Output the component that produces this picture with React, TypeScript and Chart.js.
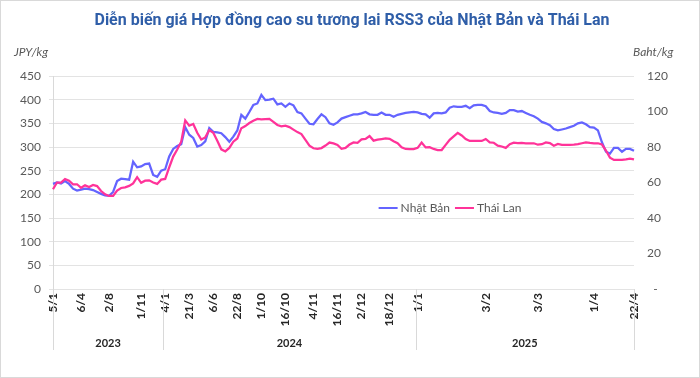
import { useEffect, useRef } from 'react';
import { Chart, registerables } from 'chart.js';

Chart.register(...registerables);

const TITLE = 'Diễn biến giá Hợp đồng cao su tương lai RSS3 của Nhật Bản và Thái Lan';

// JPY/kg – Japan RSS3 futures (left axis)
const jpyPrices = [
  222, 225, 223, 228, 222, 212, 208, 210, 212, 211,
  209, 205, 201, 198, 197, 205, 228, 233, 232, 231,
  269, 257, 259, 264, 265, 241, 237, 250, 253, 280,
  296, 302, 306, 342, 326, 319, 301, 304, 312, 340,
  332, 331, 329, 321, 311, 322, 335, 368, 360, 374,
  389, 392, 410, 399, 400, 402, 390, 392, 385, 392,
  388, 374, 371, 360, 349, 348, 359, 369, 363, 350,
  347, 352, 360, 363, 366, 369, 369, 371, 374, 369,
  368, 368, 373, 368, 368, 364, 368, 370, 372, 373,
  374, 373, 370, 369, 362, 371, 372, 371, 373, 383,
  386, 385, 385, 387, 382, 388, 389, 389, 386, 376,
  373, 372, 370, 372, 378, 378, 375, 376, 372, 368,
  365, 360, 353, 350, 346, 338, 335, 337, 339, 342,
  345, 350, 352, 348, 342, 341, 335, 310, 290, 286,
  298, 298, 290, 296, 296, 292,
];

// Baht/kg – Thailand RSS3 futures (right axis)
const thbPrices = [
  56.2, 60, 60, 62, 61, 59, 59, 57, 58.4, 57.5,
  58.6, 58, 55.2, 53.3, 52.4, 52.4, 55.5, 56.9, 57.3, 58.1,
  59.5, 63, 59.8, 61, 61.2, 60, 59.2, 61.6, 62, 68.5,
  74.6, 78.6, 83, 95, 92, 93, 88, 84.2, 85.4, 89.5,
  88, 83.5, 78.7, 77.5, 79.5, 83, 84.8, 90.6, 91.8, 93.5,
  94.8, 95.8, 95.6, 95.7, 95.8, 94.2, 92.4, 91.6, 92, 91.2,
  89.8, 88.4, 87.3, 84, 80.7, 79.3, 79, 79.4, 80.8, 82.5,
  82, 81.2, 79, 79.5, 81.4, 82.6, 82.3, 84.3, 84.6, 86.2,
  83.6, 84.2, 84.5, 84.8, 84.6, 83.2, 82.1, 79.8, 78.9, 78.8,
  78.8, 79.5, 82.5, 79.8, 79.9, 78.9, 78.3, 78.3, 81.2, 84,
  86, 88, 86.5, 84.5, 83.4, 83.4, 83.4, 83.4, 84.5, 82.6,
  82.4, 80.8, 80.3, 79.5, 81.6, 82.4, 82.2, 82.3, 82.1, 82.1,
  82.1, 81.3, 81.6, 82.6, 82.2, 80.7, 81.7, 81.2, 81.2, 81.2,
  81.3, 81.6, 82.1, 82.6, 82.3, 82.1, 82.1, 81.4, 78, 74,
  72.7, 72.7, 72.8, 73, 73.5, 73,
];

const tickLabels = ['5/1', '6/4', '2/8', '1/11', '4/1', '21/3', '6/6', '22/8', '1/10', '16/10', '4/11', '16/11', '2/12', '18/12', '1/1', '3/2', '3/3', '1/4', '22/4'];
const tickIndices = [0, 7, 14, 22, 28, 34, 40, 46, 52, 58, 65, 71, 77, 84, 91, 108, 121, 135, 145];

const years = ['2023', '2024', '2025'];
const yearStarts = [0, 28, 91];

const seriesNames = ['Nhật Bản', 'Thái Lan'];
const seriesColors = ['#6464ff', '#ff3399'];

const categories = jpyPrices.map((_, i) => {
  const k = tickIndices.indexOf(i);
  return k >= 0 ? tickLabels[k] : '';
});

const overlayPlugin = {
  id: 'overlay',
  afterDraw(chart: any) {
    const ctx: CanvasRenderingContext2D = chart.ctx;
    const area = chart.chartArea;
    const xs = chart.scales.x;
    ctx.save();

    // Title
    ctx.save();
    ctx.font = 'bold 17px Roboto';
    ctx.fillStyle = '#2f5ea8';
    ctx.textAlign = 'center';
    ctx.textBaseline = 'middle';
    const w = ctx.measureText(TITLE).width;
    const sx = Math.min(1, 515 / w);
    ctx.translate(352, 21);
    ctx.scale(sx, 1);
    ctx.fillText(TITLE, 0, 0);
    ctx.restore();

    // Axis units
    ctx.font = 'italic 12px Lato';
    ctx.fillStyle = '#595959';
    ctx.textBaseline = 'middle';
    ctx.textAlign = 'left';
    ctx.fillText('JPY/kg', 14, 52);
    ctx.fillText('Baht/kg', 633, 52);

    // Year group separators
    const last = jpyPrices.length - 1;
    const bounds = [area.left];
    for (let k = 1; k < yearStarts.length; k++) bounds.push(xs.getPixelForValue(yearStarts[k] - 0.5));
    bounds.push(xs.getPixelForValue(last));
    ctx.strokeStyle = '#d9d9d9';
    ctx.lineWidth = 1;
    bounds.forEach((b) => {
      const px = Math.round(b) + 0.5;
      ctx.beginPath();
      ctx.moveTo(px, area.bottom);
      ctx.lineTo(px, 350);
      ctx.stroke();
    });
    ctx.font = 'bold 11px Lato';
    ctx.fillStyle = '#262626';
    ctx.textAlign = 'center';
    years.forEach((yr, k) => {
      ctx.fillText(yr, (bounds[k] + bounds[k + 1]) / 2, 343);
    });

    // Legend
    ctx.font = '12px Lato';
    const lineLen = 19;
    const t1 = ctx.measureText(seriesNames[0]).width;
    const t2 = ctx.measureText(seriesNames[1]).width;
    const total = lineLen + 3 + t1 + 5 + lineLen + 3 + t2;
    let lx = 450 - total / 2;
    const ly = 208;
    ctx.textAlign = 'left';
    ctx.fillStyle = '#595959';
    ctx.lineWidth = 2;
    [t1, t2].forEach((tw, k) => {
      ctx.strokeStyle = seriesColors[k];
      ctx.beginPath();
      ctx.moveTo(lx, ly);
      ctx.lineTo(lx + lineLen, ly);
      ctx.stroke();
      lx += lineLen + 3;
      ctx.fillText(seriesNames[k], lx, ly);
      lx += tw + 5;
    });

    // Outer border
    ctx.strokeStyle = '#d9d9d9';
    ctx.lineWidth = 1;
    ctx.strokeRect(0.5, 0.5, chart.width - 1, chart.height - 1);
    ctx.restore();
  },
};

export default function App() {
  const ref = useRef<HTMLCanvasElement | null>(null);

  useEffect(() => {
    document.body.style.margin = '0';
    const canvas = ref.current;
    if (!canvas) return;
    const chart = new Chart(canvas, {
      type: 'line',
      data: {
        labels: categories,
        datasets: [
          {
            label: seriesNames[0],
            data: jpyPrices,
            yAxisID: 'y',
            borderColor: seriesColors[0],
            backgroundColor: seriesColors[0],
            borderWidth: 2.25,
            pointRadius: 0,
            tension: 0,
            order: 1,
          },
          {
            label: seriesNames[1],
            data: thbPrices,
            yAxisID: 'y1',
            borderColor: seriesColors[1],
            backgroundColor: seriesColors[1],
            borderWidth: 2.25,
            pointRadius: 0,
            tension: 0,
            order: 0,
          },
        ],
      },
      options: {
        responsive: false,
        animation: false,
        events: [],
        layout: { padding: { top: 76, left: 0, right: 0, bottom: 0 } },
        plugins: {
          legend: { display: false },
          title: { display: false },
          tooltip: { enabled: false },
        },
        scales: {
          x: {
            type: 'category',
            grid: { display: false, drawTicks: false },
            border: { display: false },
            ticks: {
              autoSkip: false,
              maxRotation: 90,
              minRotation: 90,
              padding: 4,
              color: '#262626',
              font: { family: 'Lato', size: 12, weight: 'bold' },
            },
            afterFit: (s: any) => {
              s.height = 89;
            },
          },
          y: {
            position: 'left',
            min: 0,
            max: 450,
            ticks: {
              stepSize: 50,
              padding: 8,
              color: '#595959',
              font: { family: 'Lato', size: 12 },
            },
            grid: { color: '#e3e3e3', tickLength: 4 },
            border: { display: true, color: '#d9d9d9' },
            afterFit: (s: any) => {
              s.width = 53;
            },
          },
          y1: {
            position: 'right',
            min: 0,
            max: 120,
            ticks: {
              stepSize: 20,
              padding: 13,
              color: '#595959',
              font: { family: 'Lato', size: 12 },
              callback: (v: any) => (v === 0 ? '  -' : String(v)),
            },
            grid: { display: false, drawTicks: false },
            border: { display: false },
            afterFit: (s: any) => {
              s.width = 66;
            },
          },
        },
      },
      plugins: [overlayPlugin],
    });
    return () => chart.destroy();
  }, []);

  return (
    <div style={{ width: 700, height: 378, background: '#fff' }}>
      <canvas ref={ref} width={700} height={378} style={{ display: 'block' }} />
    </div>
  );
}
